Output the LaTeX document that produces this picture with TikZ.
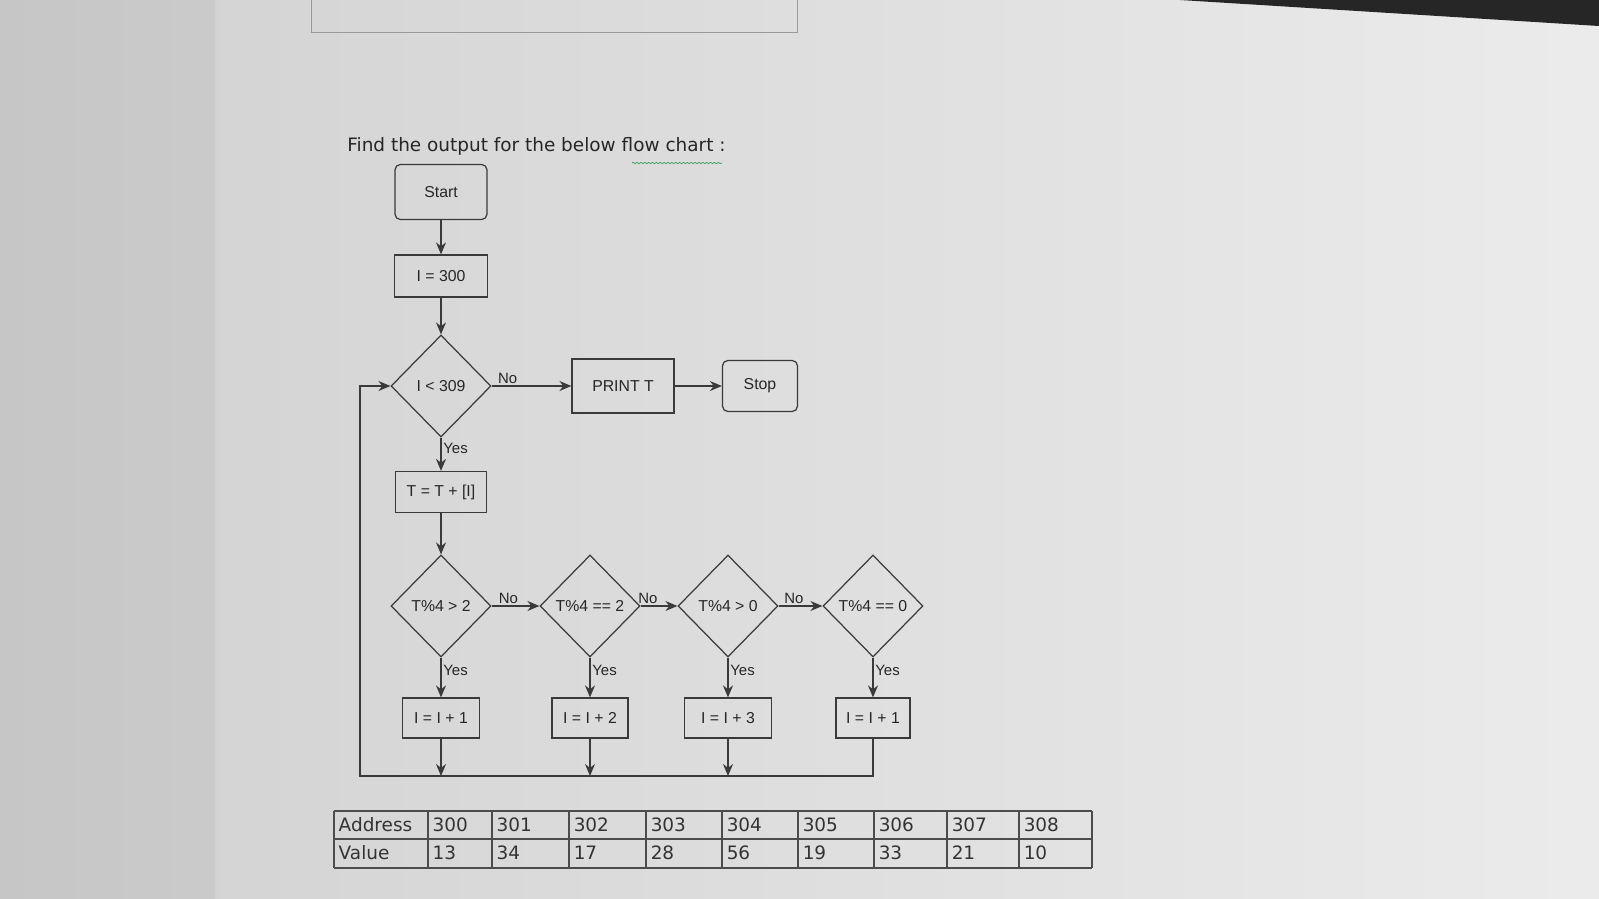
\documentclass[tikz,border=0pt]{standalone}
\usepackage{fontspec}
\setmainfont{DejaVu Sans}
\newfontfamily\flowfont{Liberation Sans}
\usetikzlibrary{shapes.geometric,arrows.meta,positioning,decorations.pathmorphing}
\definecolor{inkgray}{HTML}{3A3A3A}
\definecolor{screenbg}{HTML}{E3E3E3}
\definecolor{deskgray}{HTML}{C6C6C6}
\definecolor{spellgreen}{HTML}{3C9A5F}

\tikzset{
  flowtext/.style={font=\flowfont\fontsize{9}{10}\selectfont, text=black!85},
  procbox/.style={flowtext, draw=inkgray, line width=0.7pt, rectangle, inner sep=1pt, minimum height=0.8cm},
  termbox/.style={procbox, rounded corners=3pt},
  decision/.style={flowtext, draw=inkgray, line width=0.7pt, diamond, inner sep=0pt, minimum width=2cm, minimum height=2.04cm},
  flowline/.style={draw=inkgray, line width=0.7pt, -{Stealth[length=2.4mm,width=2mm]}},
  lbl/.style={flowtext, font=\flowfont\fontsize{8.5}{9}\selectfont, inner sep=1pt},
  tableline/.style={draw=black!70, line width=0.8pt},
  cell/.style={anchor=west, inner xsep=2.5pt, inner ysep=0pt, text=black!80, font=\fontsize{10.5}{12}\selectfont}
}

\begin{document}
\begin{tikzpicture}[x=0.02cm, y=-0.02cm]
\useasboundingbox (0,0) rectangle (1599,899);
% screen and desk
\shade[left color=screenbg!92!black, right color=screenbg!70!white] (0,0) rectangle (1599,899);
\shade[left color=deskgray, right color=deskgray!85!screenbg] (0,0) rectangle (215,899);
\fill[black!85] (1180,0) -- (1599,0) -- (1599,26) -- cycle;
\draw[black!40, line width=0.5pt] (311,-5) -- (311,32) -- (797,32) -- (797,-5);

% question
\node[anchor=west, inner sep=0pt, text=black!85, font=\fontsize{10.5}{12}\selectfont] (title) at (347,146) {Find the output for the below flow chart :};
\draw[spellgreen, line width=0.4pt, decorate, decoration={snake, amplitude=0.35pt, segment length=2.2pt}] (632,163) -- (722,163);

% flow chart
\node[termbox, minimum width=1.84cm, minimum height=1.1cm] (start) at (441,192) {Start};
\node[procbox, minimum width=1.86cm, minimum height=0.84cm] (init) at (441,276) {I = 300};
\node[decision] (loop) at (441,386) {I < 309};
\node[procbox, minimum width=2.04cm, minimum height=1.08cm] (print) at (623,386) {PRINT T};
\node[termbox, minimum width=1.5cm, minimum height=1.02cm] (stop) at (760,386) {Stop};
\node[procbox, minimum width=1.82cm, minimum height=0.82cm] (sum) at (441,492) {T = T + [I]};

\node[decision] (mod1) at (441,606) {T\%4 > 2};
\node[decision] (mod2) at (590,606) {T\%4 == 2};
\node[decision] (mod3) at (728,606) {T\%4 > 0};
\node[decision] (mod4) at (873,606) {T\%4 == 0};

\node[procbox, minimum width=1.54cm] (inc1) at (441,718) {I = I + 1};
\node[procbox, minimum width=1.52cm] (inc2) at (590,718) {I = I + 2};
\node[procbox, minimum width=1.74cm] (inc3) at (728,718) {I = I + 3};
\node[procbox, minimum width=1.48cm] (inc4) at (873,718) {I = I + 1};

\coordinate (back) at (360,776);

\draw[flowline] (start) -- (init);
\draw[flowline] (init) -- (loop);
\draw[flowline] (loop) -- node[lbl, above, pos=0.2] {No} (print);
\draw[flowline] (print) -- (stop);
\draw[flowline] (loop) -- node[lbl, right, pos=0.32] {Yes} (sum);
\draw[flowline] (sum) -- (mod1);

\draw[flowline] (mod1) -- node[lbl, above, pos=0.35] {No} (mod2);
\draw[flowline] (mod2) -- node[lbl, above, pos=0.2] {No} (mod3);
\draw[flowline] (mod3) -- node[lbl, above, pos=0.35] {No} (mod4);

\foreach \k in {1,2,3,4} {
  \draw[flowline] (mod\k) -- node[lbl, right, pos=0.32] {Yes} (inc\k);
}
\foreach \k in {1,2,3} {
  \draw[flowline] (inc\k) -- (inc\k |- back);
}
\draw[flowline] (inc4) -- (inc4 |- back) -- (back) |- (loop.west);

% memory table
\foreach \y in {811,839,868} \draw[tableline] (334,\y) -- (1092,\y);
\foreach \x in {334,428,492,569,646,722,798,874,947,1019,1092} \draw[tableline] (\x,811) -- (\x,868);
\node[cell] (addr) at (334,825) {Address};
\node[cell] (val) at (334,853) {Value};
\foreach \x/\a/\v in {428/300/13, 492/301/34, 569/302/17, 646/303/28, 722/304/56, 798/305/19, 874/306/33, 947/307/21, 1019/308/10} {
  \node[cell] (a\a) at (\x,825) {\a};
  \node[cell] (v\a) at (\x,853) {\v};
}
\end{tikzpicture}
\end{document}
